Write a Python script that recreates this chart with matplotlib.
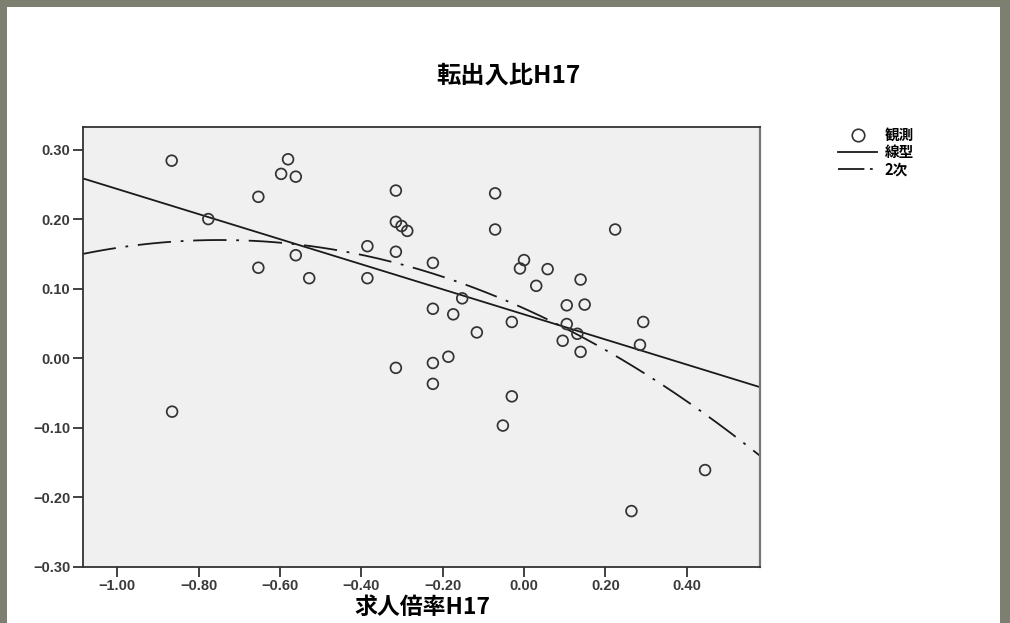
import numpy as np
import matplotlib
matplotlib.use("Agg")
import matplotlib.pyplot as plt
from matplotlib.lines import Line2D
from matplotlib.patches import Rectangle
from matplotlib.ticker import FuncFormatter, FixedLocator

# ---- data (47 prefectures) ----
job_ratio = [-0.866, -0.865, -0.776, -0.653, -0.653, -0.580, -0.597, -0.561, -0.561, -0.528,
             -0.385, -0.385, -0.315, -0.315, -0.301, -0.287, -0.315, -0.315, -0.224, -0.224,
             -0.224, -0.224, -0.186, -0.174, -0.152, -0.116, -0.071, -0.071, -0.052, -0.030,
             -0.030, -0.010, 0.000, 0.030, 0.058, 0.105, 0.105, 0.095, 0.131, 0.139,
             0.149, 0.139, 0.224, 0.264, 0.293, 0.285, 0.445]
migration = [0.284, -0.077, 0.200, 0.232, 0.130, 0.286, 0.265, 0.261, 0.148, 0.115,
             0.161, 0.115, 0.241, 0.196, 0.190, 0.183, 0.153, -0.014, 0.137, 0.071,
             -0.007, -0.037, 0.002, 0.063, 0.086, 0.037, 0.237, 0.185, -0.097, 0.052,
             -0.055, 0.129, 0.141, 0.104, 0.128, 0.076, 0.049, 0.025, 0.035, 0.113,
             0.077, 0.009, 0.185, -0.220, 0.052, 0.019, -0.161]
x_ticks = [-1.00, -0.80, -0.60, -0.40, -0.20, 0.00, 0.20, 0.40]
y_ticks = [-0.30, -0.20, -0.10, 0.00, 0.10, 0.20, 0.30]
title = "転出入比H17"
xlabel = "求人倍率H17"
legend_labels = ["観測", "線型", "2次"]

CJK = ["Noto Sans CJK JP", "DejaVu Sans"]
plt.rcParams["lines.scale_dashes"] = False

W, H = 1010, 623
fig = plt.figure(figsize=(W / 100, H / 100), dpi=100)
fig.patch.set_facecolor("#7d8070")
fig.patches.append(Rectangle((7 / W, 0), (1000 - 7) / W, 1 - 7 / H,
                             transform=fig.transFigure, facecolor="white",
                             edgecolor="none", zorder=-10))

ax = fig.add_axes([83 / W, 1 - 566.7 / H, (760 - 83) / W, (566.7 - 127.3) / H])
ax.set_facecolor("#f0f0f0")
xlim = (-1.084, 0.580)
ylim = (-0.30, 0.332)
ax.set_xlim(*xlim)
ax.set_ylim(*ylim)

xs = np.array(job_ratio)
ys = np.array(migration)
ax.scatter(xs, ys, s=60, facecolors="none", edgecolors="#333333", linewidths=1.25, zorder=3)

xx = np.linspace(xlim[0], xlim[1], 300)
lin = np.polyfit(xs, ys, 1)
quad = np.polyfit(xs, ys, 2)
ax.plot(xx, np.polyval(lin, xx), color="#1a1a1a", lw=1.3, zorder=2)
ax.plot(xx, np.polyval(quad, xx), color="#1a1a1a", lw=1.3,
        linestyle=(0, (24, 7, 2, 7)), zorder=2)

ax.xaxis.set_major_locator(FixedLocator(x_ticks))
ax.yaxis.set_major_locator(FixedLocator(y_ticks))
fmt = FuncFormatter(lambda v, p: f"{v:.2f}".replace("-", "\u2212"))
ax.xaxis.set_major_formatter(fmt)
ax.yaxis.set_major_formatter(fmt)
ax.tick_params(axis="both", direction="out", length=7, width=1.3, color="#333333",
               labelsize=10.5, labelcolor="#3a3a3a", pad=2, top=False, right=False)
for lbl in ax.get_xticklabels() + ax.get_yticklabels():
    lbl.set_fontfamily("Liberation Sans")
    lbl.set_fontweight("bold")

for side in ["left", "bottom", "top"]:
    ax.spines[side].set_color("#333333")
    ax.spines[side].set_linewidth(1.3)
ax.spines["right"].set_color("#777777")
ax.spines["right"].set_linewidth(1.6)

fig.text(508 / W, 1 - 76 / H, title, ha="center", va="center", fontsize=17.5,
         fontweight="bold", family=CJK)
fig.text(422 / W, 1 - 607 / H, xlabel, ha="center", va="center", fontsize=16.5,
         fontweight="bold", family=CJK)

handles = [
    Line2D([], [], marker="o", linestyle="none", markersize=9, markerfacecolor="none",
           markeredgecolor="#333333", markeredgewidth=1.2),
    Line2D([], [], color="#1a1a1a", lw=1.3),
    Line2D([], [], color="#1a1a1a", lw=1.3, linestyle=(0, (19, 4, 2, 8))),
]
leg = fig.legend(handles, legend_labels, loc="upper left",
                 bbox_to_anchor=(838 / W, 1 - 127 / H), frameon=False,
                 prop={"family": CJK, "size": 10.5, "weight": "bold"},
                 handlelength=2.7, handletextpad=0.5, labelspacing=0.08,
                 borderpad=0, borderaxespad=0)

fig.savefig("out.png", dpi=100, facecolor=fig.get_facecolor())
